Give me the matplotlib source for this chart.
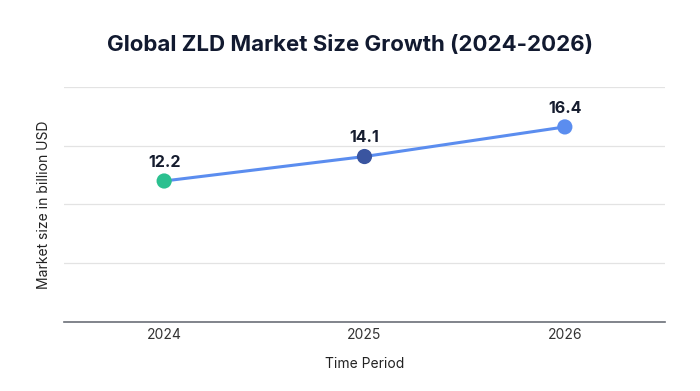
import matplotlib.pyplot as plt
import numpy as np

plt.rcParams["font.family"] = ["Inter", "DejaVu Sans"]

years = ["2024", "2025", "2026"]
market_size = [12.2, 14.1, 16.4]
point_colors = ["#2bc08f", "#3a55a0", "#5b8def"]

fig = plt.figure(figsize=(7, 3.91), dpi=100)
ax = fig.add_axes([0.0914, 0.1765, 0.8586, 0.601])

x = np.arange(len(years))
ax.plot(x, market_size, color="#5b8def", linewidth=2.2, zorder=2)
ax.scatter(x, market_size, s=120, c=point_colors, zorder=3, edgecolors="none")

for xi, v in zip(x, market_size):
    ax.annotate(f"{v}", (xi, v), xytext=(0, 8), textcoords="offset points",
                ha="center", va="bottom", fontsize=11.5, fontweight="bold",
                color="#151c2e")

ax.set_xlim(-0.5, 2.5)
ax.set_ylim(1.25, 19.5)
ax.set_yticks(np.linspace(1.25, 19.5, 5))
ax.set_yticklabels([])
ax.tick_params(axis="y", length=0)
ax.tick_params(axis="x", length=0, pad=4, labelsize=10, labelcolor="#333333")
ax.set_xticks(x)
ax.set_xticklabels(years)
ax.grid(axis="y", color="#e3e3e3", linewidth=0.9)
ax.set_axisbelow(True)

for side in ["top", "right", "left"]:
    ax.spines[side].set_visible(False)
ax.spines["bottom"].set_color("#6b6f78")
ax.spines["bottom"].set_linewidth(1.2)

ax.set_xlabel("Time Period", fontsize=10, color="#222222", labelpad=11)
ax.set_ylabel("Market size in billion USD", fontsize=10, color="#222222", labelpad=6)

fig.suptitle("Global ZLD Market Size Growth (2024-2026)", x=0.5, y=0.91,
             fontsize=16, fontweight="bold", color="#121a30")

fig.savefig("out.png", dpi=100)
